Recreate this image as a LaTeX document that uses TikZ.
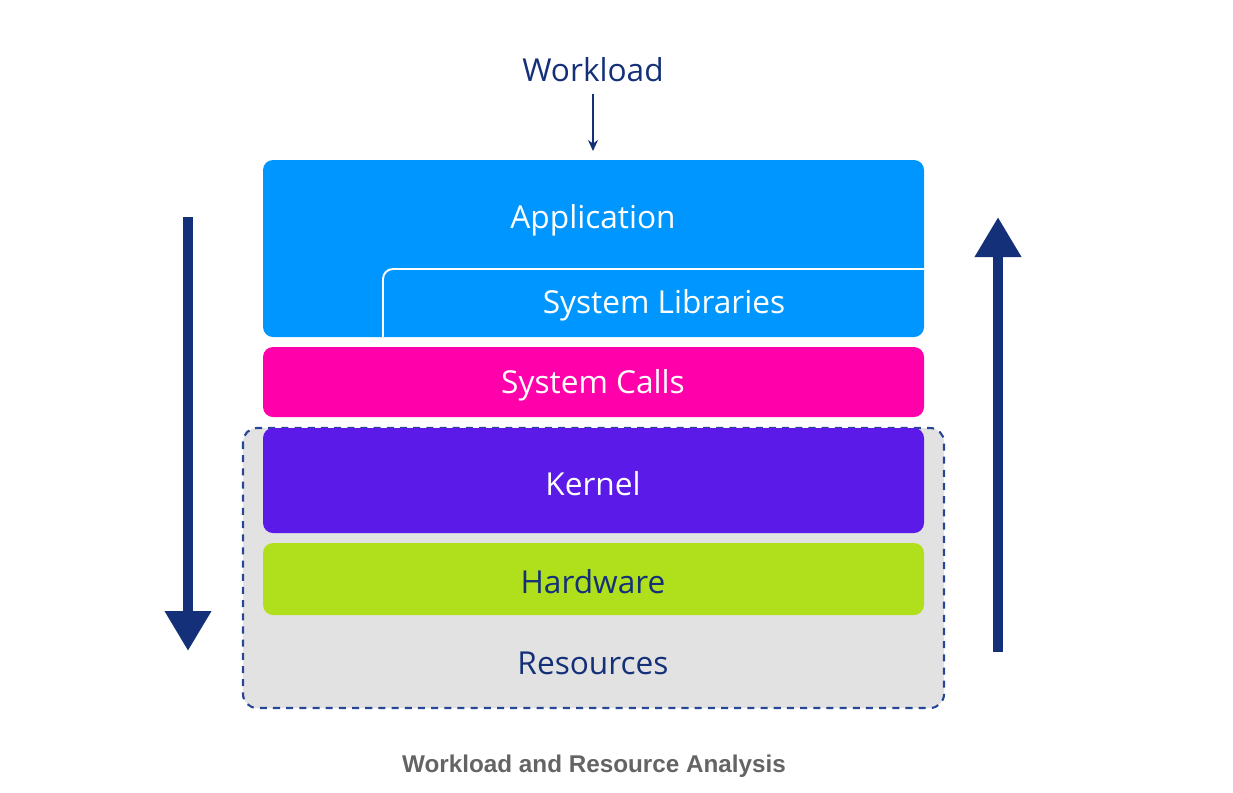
\documentclass[tikz,border=0pt]{standalone}
\usepackage{fontspec}
\setmainfont{Open Sans}
\newfontfamily\capfont{Liberation Sans}
\usetikzlibrary{arrows.meta, calc}
\definecolor{appblue}{RGB}{0,150,255}
\definecolor{callpink}{RGB}{255,0,170}
\definecolor{kernpurple}{RGB}{92,26,232}
\definecolor{hwlime}{RGB}{176,224,28}
\definecolor{resgray}{RGB}{226,226,226}
\definecolor{navy}{RGB}{20,48,120}
\definecolor{dashnavy}{RGB}{40,70,150}
\definecolor{capgray}{RGB}{100,100,100}
\tikzset{
  layer/.style     = {rounded corners=0.2cm},
  lbl/.style       = {font=\fontsize{18}{21}\selectfont, text=white},
  lbldark/.style   = {font=\fontsize{18}{21}\selectfont, text=navy},
  bigarrow/.style  = {-{Triangle[width=0.88cm, length=0.8cm]}, navy, line width=0.2cm},
  thinarrow/.style = {-{Stealth[width=0.2cm, length=0.22cm]}, navy, line width=0.7pt}
}

\begin{document}
\begin{tikzpicture}[x=0.02cm, y=-0.02cm]
  \useasboundingbox (0,0) rectangle (1233,792);

  % resources frame
  \draw[dashnavy, fill=resgray, line width=1.2pt, dash pattern=on 4pt off 3.5pt,
        rounded corners=0.28cm] (243,428) rectangle (944,708);

  % layers
  \fill[layer, appblue]    (263,160) rectangle (924,337);
  \fill[layer, callpink]   (263,347) rectangle (924,417);
  \fill[layer, kernpurple] (263,428) rectangle (924,533);
  \fill[layer, hwlime]     (263,543) rectangle (924,615);
  \draw[white, line width=1.1pt, rounded corners=0.2cm]
        (383,337) -- (383,269) -- (924,269);

  \node[lbl] (app)  at (593,220) {Application};
  \node[lbl] (libs) at (664,305) {System Libraries};
  \node[lbl] (calls) at (593,385) {System Calls};
  \node[lbl] (kern) at (593,484) {Kernel};
  \node[lbldark] (hw) at (593,582) {Hardware};
  \node[lbldark] (res) at (593,663) {Resources};

  % workload in
  \node[lbldark] (wl) at (593,70) {Workload};
  \coordinate (wlend) at (593,151);
  \draw[thinarrow] (593,94) -- (wlend);

  % down and up
  \coordinate (dtop) at (188,217);
  \coordinate (dbot) at (188,651);
  \coordinate (ubot) at (998,652);
  \coordinate (utop) at (998,217);
  \draw[bigarrow] (dtop) -- (dbot);
  \draw[bigarrow] (ubot) -- (utop);

  \node[font=\capfont\bfseries\fontsize{13.8}{16}\selectfont, text=capgray] (cap)
        at (594,766) {Workload and Resource Analysis};
\end{tikzpicture}
\end{document}
